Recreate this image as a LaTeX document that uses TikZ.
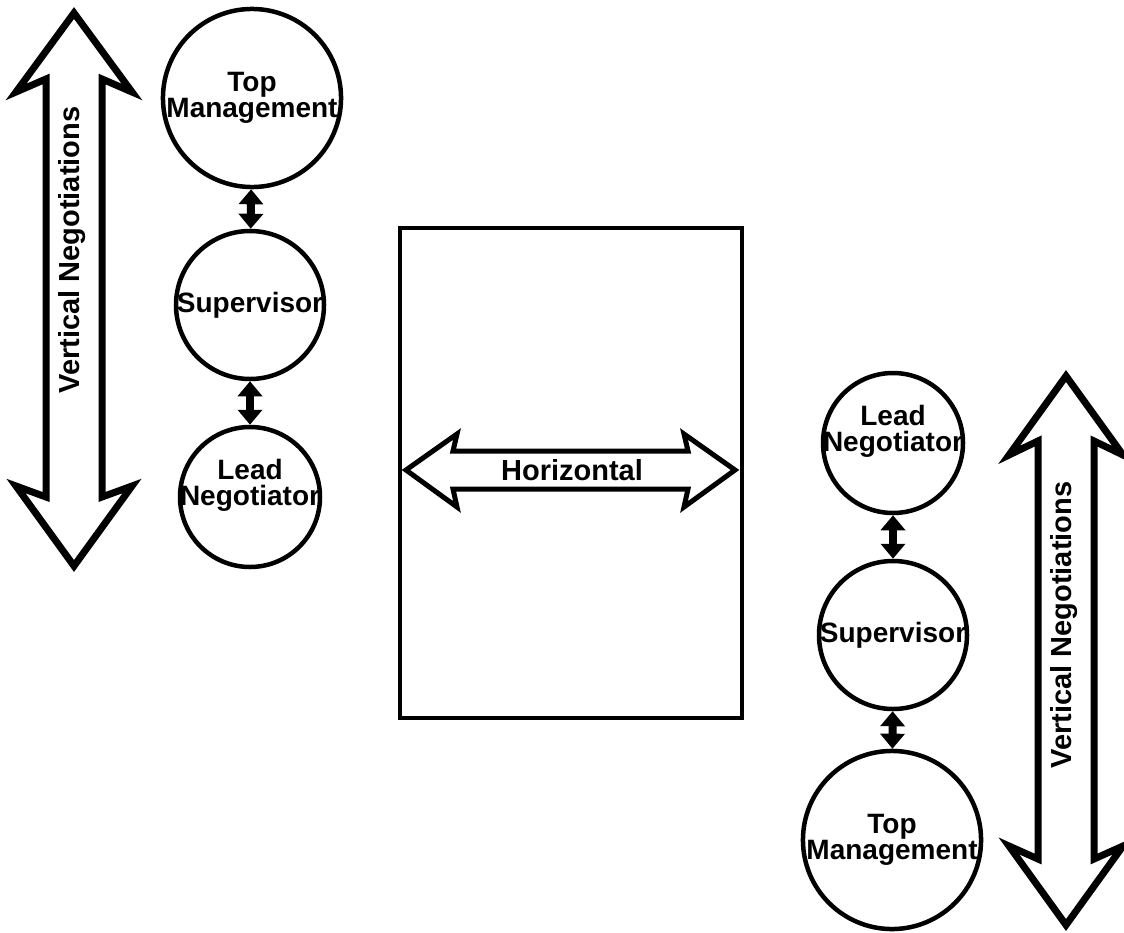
\documentclass[tikz,border=0pt]{standalone}
\usepackage{fontspec}
\setmainfont{Liberation Sans}
\usetikzlibrary{arrows.meta}
\tikzset{
  circfont/.style={font=\bfseries\fontsize{28}{26}\selectfont, align=center, inner sep=0pt},
  circ/.style={circle, draw, line width=4.5pt, inner sep=0pt, circfont},
  bigcirc/.style={circ, minimum size=176pt},
  smallcirc/.style={circ, minimum size=140pt},
  link/.style={line width=8pt,
    {Triangle[width=24pt,length=15pt]}-{Triangle[width=24pt,length=15pt]}},
  hollow/.style={draw, fill=white, line width=7pt, line join=miter, miter limit=20},
  hollowthin/.style={draw, fill=white, line width=5pt, line join=miter, miter limit=20},
  lbl/.style={font=\bfseries\fontsize{29}{29}\selectfont, inner sep=0pt},
  boxframe/.style={draw, line width=4pt, inner sep=0pt}
}
\begin{document}
\begin{tikzpicture}[x=1pt,y=-1pt]
\useasboundingbox (0,0) rectangle (1124,932);

% left vertical arrow
\draw[hollow] (74,13) -- (132,92) -- (102,79) -- (102,497) -- (132,486) -- (74,566)
  -- (16,486) -- (46,497) -- (46,79) -- (16,92) -- cycle;
\node[lbl, rotate=90] (vl) at (72,250) {Vertical Negotiations};

% left column
\node[bigcirc] (tmL) at (252,98) {Top\\Management};
\node[smallcirc] (supL) at (250,305) {Supervisor};
\node[smallcirc] (lnL) at (250,497) {};
\node[circfont] (lnLt) at ([yshift=12pt]lnL.center) {Lead\\Negotiator};
\draw[link] (tmL) -- (supL);
\draw[link] (supL) -- (lnL);

% centre box
\node[boxframe, minimum width=342pt, minimum height=490pt] (box) at (571,473) {};
\draw[hollowthin] (406,470) -- (457,434) -- (453,451) -- (688,451) -- (684,434) -- (735,470)
  -- (684,507) -- (688,489) -- (453,489) -- (457,507) -- cycle;
\node[lbl] (hz) at (572,470) {Horizontal};

% right column
\node[smallcirc] (lnR) at (893,443) {};
\node[circfont] (lnRt) at ([yshift=12pt]lnR.center) {Lead\\Negotiator};
\node[smallcirc] (supR) at (893,635) {Supervisor};
\node[bigcirc] (tmR) at (892,840) {Top\\Management};
\draw[link] (lnR) -- (supR);
\draw[link] (supR) -- (tmR);

% right vertical arrow
\draw[hollow] (1066,376) -- (1123,455) -- (1094,441) -- (1094,859) -- (1123,846) -- (1066,925)
  -- (1009,846) -- (1038,859) -- (1038,441) -- (1009,455) -- cycle;
\node[lbl, rotate=90] (vr) at (1064,625) {Vertical Negotiations};
\end{tikzpicture}
\end{document}
